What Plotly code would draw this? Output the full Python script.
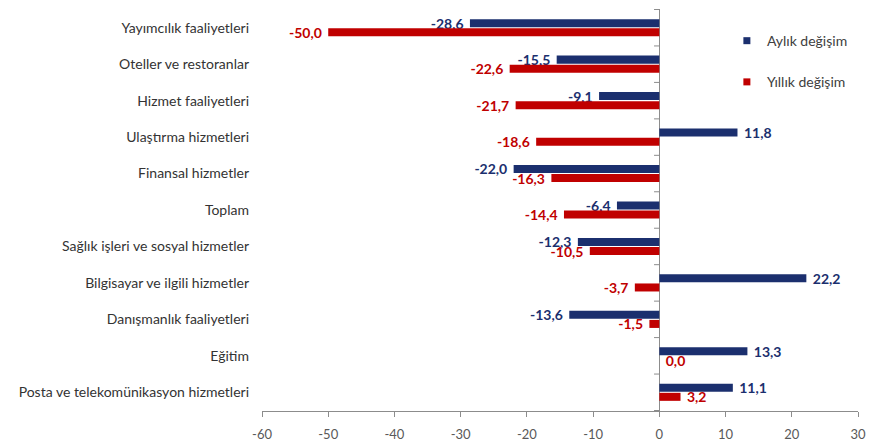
import plotly.graph_objects as go

categories = [
    "Yayımcılık faaliyetleri",
    "Oteller ve restoranlar",
    "Hizmet faaliyetleri",
    "Ulaştırma hizmetleri",
    "Finansal hizmetler",
    "Toplam",
    "Sağlık işleri ve sosyal hizmetler",
    "Bilgisayar ve ilgili hizmetler",
    "Danışmanlık faaliyetleri",
    "Eğitim",
    "Posta ve telekomünikasyon hizmetleri",
]
aylik = [-28.6, -15.5, -9.1, 11.8, -22.0, -6.4, -12.3, 22.2, -13.6, 13.3, 11.1]
yillik = [-50.0, -22.6, -21.7, -18.6, -16.3, -14.4, -10.5, -3.7, -1.5, 0.0, 3.2]
x_ticks = [-60, -50, -40, -30, -20, -10, 0, 10, 20, 30]

BLUE = "#1B2F6E"
RED = "#C00000"
FONT = "Lato"


def fmt(v):
    s = f"{v:.1f}".replace(".", ",")
    return s + " " if v < 0 else " " + s


fig = go.Figure()
fig.add_trace(go.Bar(
    y=categories, x=aylik, orientation="h", name="Aylık değişim",
    showlegend=False,
    marker=dict(color=BLUE, line=dict(width=0)),
    text=[fmt(v) for v in aylik], textposition="outside", constraintext="none",
    textfont=dict(family=FONT, size=14, color=BLUE, weight="bold"),
    cliponaxis=False,
))
fig.add_trace(go.Bar(
    y=categories, x=yillik, orientation="h", name="Yıllık değişim",
    showlegend=False,
    marker=dict(color=RED, line=dict(width=0)),
    text=[fmt(v) for v in yillik], textposition="outside", constraintext="none",
    textfont=dict(family=FONT, size=14, color=RED, weight="bold"),
    cliponaxis=False,
))
# legend entries with small square markers
for name, col, grp in [("Aylık değişim", BLUE, "a"), ("Yıllık değişim", RED, "b")]:
    fig.add_trace(go.Scatter(
        x=[None], y=[None], mode="markers", name=name, legendgroup=grp,
        marker=dict(symbol="square", size=7, color=col),
    ))

# small tick marks between categories on the zero line
shapes = []
for i in range(len(categories) + 1):
    shapes.append(dict(type="line", xref="x", yref="y",
                       x0=-0.8, x1=0, y0=i - 0.5, y1=i - 0.5,
                       line=dict(color="#8C8C8C", width=1)))

fig.update_layout(
    width=878, height=446,
    margin=dict(l=262, r=20, t=9, b=35),
    paper_bgcolor="white", plot_bgcolor="white",
    barmode="group", bargap=0.5, bargroupgap=0.12,
    font=dict(family=FONT, size=14, color="#333333"),
    showlegend=True,
    legend=dict(x=0.78, y=0.96, xanchor="left", yanchor="top",
                bgcolor="rgba(0,0,0,0)", font=dict(family=FONT, size=14, color="#404040"),
                itemwidth=30, tracegroupgap=20),
    shapes=shapes,
)
fig.update_xaxes(
    range=[-60, 30], tickvals=x_ticks, ticktext=[str(t) for t in x_ticks],
    showgrid=False, zeroline=True, zerolinecolor="#8C8C8C", zerolinewidth=1,
    showline=True, linecolor="#8C8C8C", linewidth=1,
    ticks="outside", ticklen=5, tickcolor="#8C8C8C",
    ticklabelstandoff=6, automargin=False,
    tickfont=dict(family=FONT, size=13, color="#595959"),
)
fig.update_yaxes(
    autorange="reversed", showgrid=False, showline=False, ticks="",
    ticklabelstandoff=12, automargin=False,
    tickfont=dict(family=FONT, size=14, color="#333333"),
)

fig.write_html("out.html", config={"displayModeBar": False})

with open("out.html", "r", encoding="utf-8") as f:
    html = f.read()
html = html.replace("<body>", '<body style="margin:0">', 1)
with open("out.html", "w", encoding="utf-8") as f:
    f.write(html)
